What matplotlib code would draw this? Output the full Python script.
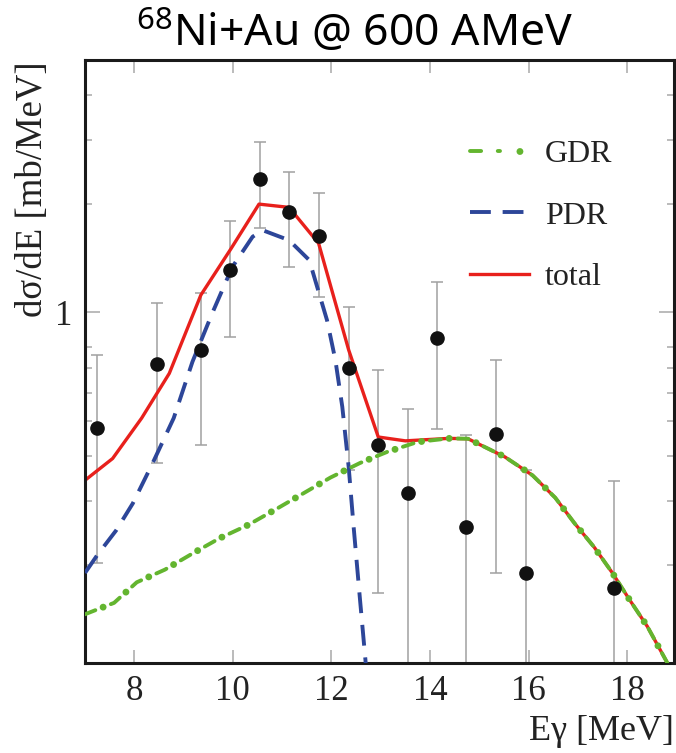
import matplotlib
matplotlib.use("Agg")
import matplotlib.pyplot as plt
from matplotlib.ticker import FixedLocator, FixedFormatter, NullFormatter
from matplotlib.legend_handler import HandlerTuple

plt.rcParams['mathtext.fontset'] = 'custom'
plt.rcParams['mathtext.rm'] = 'Noto Sans'
plt.rcParams['lines.scale_dashes'] = False   # штрихи в пунктах

# экспериментальные точки
E_exp = [7.25, 8.46, 9.35, 9.94, 10.56, 11.14, 11.74, 12.35, 12.95, 13.55, 14.14, 14.74, 15.34, 15.95, 17.73]
sig_exp = [0.478, 0.719, 0.786, 1.31, 2.34, 1.90, 1.63, 0.70, 0.429, 0.317, 0.847, 0.254, 0.462, 0.1905, 0.173]
sig_hi = [0.762, 1.059, 1.129, 1.79, 2.97, 2.45, 2.14, 1.036, 0.692, 0.542, 1.216, 0.457, 0.738, 0.366, 0.341]
sig_lo = [0.202, 0.382, 0.429, 0.856, 1.71, 1.34, 1.10, 0.366, 0.167, 0.05, 0.477, 0.05, 0.19, 0.05, 0.05]

# GDR
E_gdr = [7.0, 7.59, 8.05, 8.62, 9.18, 9.73, 10.31, 10.87, 11.42, 11.98, 12.58, 13.13, 13.75, 14.38, 14.77,
         15.52, 16.08, 16.54, 16.93, 17.33, 17.70, 18.05, 18.41, 18.80, 18.95]
sig_gdr = [0.146, 0.157, 0.179, 0.194, 0.215, 0.237, 0.258, 0.285, 0.315, 0.349, 0.383, 0.411, 0.438, 0.448, 0.447,
           0.398, 0.354, 0.307, 0.261, 0.224, 0.19, 0.16, 0.135, 0.108, 0.098]

# PDR
E_pdr = [7.0, 7.25, 7.63, 7.97, 8.37, 8.8, 9.18, 9.58, 9.99, 10.40, 10.6, 11.14, 11.55, 11.91, 12.08,
         12.22, 12.35, 12.45, 12.58, 12.69, 12.8]
sig_pdr = [0.19, 0.213, 0.249, 0.296, 0.382, 0.51, 0.73, 0.994, 1.337, 1.62, 1.69, 1.585, 1.396, 0.952, 0.738,
           0.548, 0.373, 0.255, 0.16, 0.109, 0.07]

# total
E_tot = [7.0, 7.56, 8.15, 8.71, 9.35, 9.96, 10.53, 11.14, 11.74, 12.35, 12.95, 13.5, 14.38, 14.77,
         15.52, 16.08, 16.54, 16.93, 17.33, 17.70, 18.05, 18.41, 18.80, 18.95]
sig_tot = [0.343, 0.394, 0.51, 0.678, 1.117, 1.50, 1.995, 1.954, 1.553, 0.787, 0.452, 0.441, 0.448, 0.447,
           0.398, 0.354, 0.307, 0.261, 0.224, 0.19, 0.16, 0.135, 0.108, 0.098]

x_ticks = [8, 10, 12, 14, 16, 18]
y_minor = [0.2, 0.3, 0.4, 0.5, 0.6, 0.7, 0.8, 2, 3, 4]

fig = plt.figure(figsize=(6.76, 7.53), dpi=100)
ax = fig.add_axes([85 / 676, 1 - 663 / 753, 589 / 676, 603 / 753])

yerr = [[s - lo for s, lo in zip(sig_exp, sig_lo)], [hi - s for s, hi in zip(sig_exp, sig_hi)]]
ax.errorbar(E_exp, sig_exp, yerr=yerr, fmt='none', ecolor='#a0a0a0', elinewidth=1.1,
            capsize=4.5, capthick=1.1, zorder=1)

green = '#63b52f'
l_tot, = ax.plot(E_tot, sig_tot, color='#e8201c', lw=2.4, zorder=2)
l_pdr, = ax.plot(E_pdr, sig_pdr, color='#2d4699', lw=2.8, linestyle=(0, (15, 8.5)), zorder=3)
l_gdr, = ax.plot(E_gdr, sig_gdr, color=green, lw=2.8, linestyle=(0, (8, 12)),
                 dash_capstyle='round', zorder=4)
l_gdr_dots, = ax.plot(E_gdr, sig_gdr, color=green, lw=5, linestyle=(6, (0.01, 19.99)),
                      dash_capstyle='round', zorder=4)
ax.plot(E_exp, sig_exp, 'o', color='#111111', ms=9.5, zorder=5)

ax.set_yscale('log')
ax.set_xlim(7, 18.95)
ax.set_ylim(0.107, 5.0)

ax.xaxis.set_major_locator(FixedLocator(x_ticks))
ax.xaxis.set_minor_locator(FixedLocator([]))
ax.yaxis.set_major_locator(FixedLocator([1]))
ax.yaxis.set_major_formatter(FixedFormatter(['1']))
ax.yaxis.set_minor_locator(FixedLocator(y_minor))
ax.yaxis.set_minor_formatter(NullFormatter())

ax.tick_params(which='both', direction='in', top=True, right=True, color='#a8a8a8', width=1.1,
               labelsize=25, labelcolor='#222222')
ax.tick_params(axis='x', which='major', length=9.5, pad=9)
ax.tick_params(axis='y', which='major', length=11, pad=9)
ax.tick_params(axis='y', which='minor', length=5)
for lab in ax.get_xticklabels() + ax.get_yticklabels():
    lab.set_family('Liberation Serif')
for sp in ax.spines.values():
    sp.set_linewidth(2.2)
    sp.set_color('#1a1a1a')

leg = ax.legend([(l_gdr, l_gdr_dots), l_pdr, l_tot], ['GDR', 'PDR', 'total'], loc='upper left',
                handler_map={tuple: HandlerTuple(ndivide=None, pad=0)},
                bbox_to_anchor=(470 / 676, 1 - 140 / 753), bbox_transform=fig.transFigure,
                frameon=False, borderpad=0, borderaxespad=0, handlelength=1.85, handletextpad=0.5,
                labelspacing=1.0, prop={'family': 'Liberation Serif', 'size': 23})
for t in leg.get_texts():
    t.set_color('#222222')

fig.text(355 / 676, 1 - 47 / 753, r'$\mathrm{^{68}}$Ni+Au @ 600 AMeV', ha='center', va='baseline',
         fontsize=32, family='Noto Sans', color='black')
fig.text(33 / 676, 1 - 61 / 753, 'dσ/dE [mb/MeV]', rotation=90, ha='center', va='top',
         fontsize=26.5, family='Liberation Serif', color='#222222')
fig.text(674 / 676, 1 - 748 / 753, 'Eγ [MeV]', ha='right', va='bottom',
         fontsize=26, family='Liberation Serif', color='#222222')

fig.savefig('out.png', dpi=100)
